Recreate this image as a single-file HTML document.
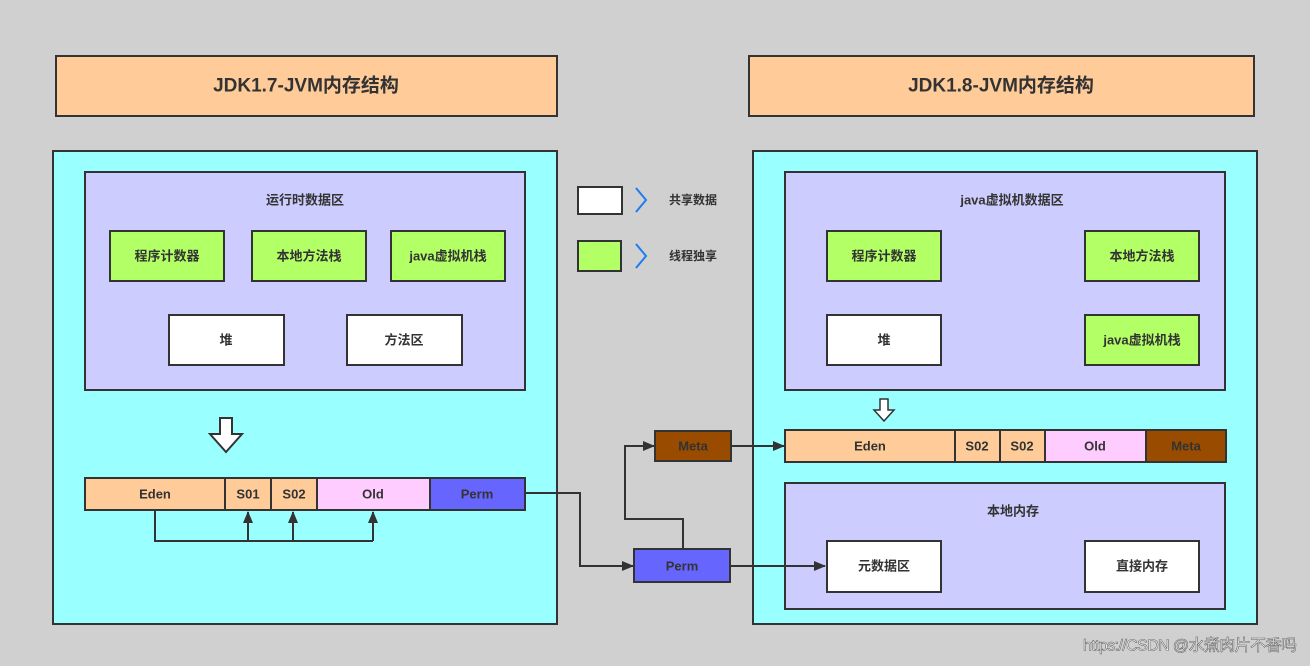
<!DOCTYPE html>
<html><head><meta charset="utf-8"><style>
html,body{margin:0;padding:0;background:#d0d0d0;}
svg{display:block;}
text{font-family:"Liberation Sans","Noto Sans CJK SC",sans-serif;fill:#333;font-weight:bold;font-size:13px;text-anchor:middle;dominant-baseline:central;}
.t{font-size:19px;}
</style></head><body>
<svg width="1310" height="666" viewBox="0 0 1310 666" xmlns="http://www.w3.org/2000/svg">
<defs><marker id="a" markerWidth="12" markerHeight="10" refX="11" refY="5" orient="auto" markerUnits="userSpaceOnUse"><path d="M0,0 L12,5 L0,10 z" fill="#333"/></marker></defs>
<g stroke="#333" stroke-width="2">
<rect x="56" y="56" width="501" height="60" fill="#ffcc99"/>
<rect x="749" y="56" width="505" height="60" fill="#ffcc99"/>
<rect x="53" y="151" width="504" height="473" fill="#99ffff"/>
<rect x="753" y="151" width="504" height="473" fill="#99ffff"/>
<rect x="85" y="172" width="440" height="218" fill="#ccccff"/>
<rect x="110" y="231" width="114" height="50" fill="#b3ff66"/>
<rect x="252" y="231" width="114" height="50" fill="#b3ff66"/>
<rect x="391" y="231" width="114" height="50" fill="#b3ff66"/>
<rect x="169" y="315" width="115" height="50" fill="#fff"/>
<rect x="347" y="315" width="115" height="50" fill="#fff"/>
<rect x="85" y="478" width="140" height="32" fill="#ffcc99"/>
<rect x="225" y="478" width="46" height="32" fill="#ffcc99"/>
<rect x="271" y="478" width="46" height="32" fill="#ffcc99"/>
<rect x="317" y="478" width="113" height="32" fill="#ffccff"/>
<rect x="430" y="478" width="95" height="32" fill="#6666ff"/>
<rect x="578" y="187" width="44" height="27" fill="#fff"/>
<rect x="578" y="241" width="43" height="30" fill="#b3ff66"/>
<rect x="655" y="431" width="76" height="30" fill="#994c00"/>
<rect x="634" y="549" width="96" height="33" fill="#6666ff"/>
<rect x="785" y="172" width="440" height="218" fill="#ccccff"/>
<rect x="827" y="231" width="114" height="50" fill="#b3ff66"/>
<rect x="1085" y="231" width="114" height="50" fill="#b3ff66"/>
<rect x="827" y="315" width="114" height="50" fill="#fff"/>
<rect x="1085" y="315" width="114" height="50" fill="#b3ff66"/>
<rect x="785" y="430" width="170" height="32" fill="#ffcc99"/>
<rect x="955" y="430" width="45" height="32" fill="#ffcc99"/>
<rect x="1000" y="430" width="45" height="32" fill="#ffcc99"/>
<rect x="1045" y="430" width="101" height="32" fill="#ffccff"/>
<rect x="1146" y="430" width="80" height="32" fill="#994c00"/>
<rect x="785" y="483" width="440" height="126" fill="#ccccff"/>
<rect x="827" y="541" width="114" height="51" fill="#fff"/>
<rect x="1085" y="541" width="114" height="51" fill="#fff"/>
<g fill="none">
<path d="M155,510 V541 H373"/>
<path d="M248,541 V512" marker-end="url(#a)"/>
<path d="M293,541 V512" marker-end="url(#a)"/>
<path d="M373,541 V512" marker-end="url(#a)"/>
<path d="M525,493 H580 V566 H633" marker-end="url(#a)"/>
<path d="M683,549 V519 H625 V446 H654" marker-end="url(#a)"/>
<path d="M731,446 H784" marker-end="url(#a)"/>
<path d="M730,566 H825" marker-end="url(#a)"/>
</g>
<path d="M220,418 H232 V434 H242 L226,452 L210,434 H220 Z" fill="#fff"/>
<path d="M880,399 H888 V410 H894 L884,421 L874,410 H880 Z" fill="#fff" stroke-width="1.5"/>
</g>
<g stroke="#1e7bf0" stroke-width="2" fill="none"><path d="M636,188 L646,200 L636,212"/><path d="M636,244 L646,256 L636,268"/></g>
<text class="t" x="306" y="86">JDK1.7-JVM内存结构</text>
<text class="t" x="1001" y="86">JDK1.8-JVM内存结构</text>
<text x="305" y="200">运行时数据区</text>
<text x="167" y="256">程序计数器</text>
<text x="309" y="256">本地方法栈</text>
<text x="448" y="256">java虚拟机栈</text>
<text x="226" y="340">堆</text>
<text x="404" y="340">方法区</text>
<text x="155" y="494">Eden</text>
<text x="248" y="494">S01</text>
<text x="294" y="494">S02</text>
<text x="373" y="494">Old</text>
<text x="477" y="494">Perm</text>
<text x="693" y="200" style="font-size:12px;">共享数据</text>
<text x="693" y="256" style="font-size:12px;">线程独享</text>
<text x="693" y="446">Meta</text>
<text x="682" y="566">Perm</text>
<text x="1012" y="200">java虚拟机数据区</text>
<text x="884" y="256">程序计数器</text>
<text x="1142" y="256">本地方法栈</text>
<text x="884" y="340">堆</text>
<text x="1142" y="340">java虚拟机栈</text>
<text x="870" y="446">Eden</text>
<text x="977" y="446">S02</text>
<text x="1022" y="446">S02</text>
<text x="1095" y="446">Old</text>
<text x="1186" y="446">Meta</text>
<text x="1013" y="511">本地内存</text>
<text x="884" y="566">元数据区</text>
<text x="1142" y="566">直接内存</text>
<text x="1190" y="646" style="font-size:16px;font-weight:normal;fill:#fff;stroke:#666;stroke-width:0.6" textLength="214">https://CSDN @水煮肉片不香吗</text>
</svg>
</body></html>
